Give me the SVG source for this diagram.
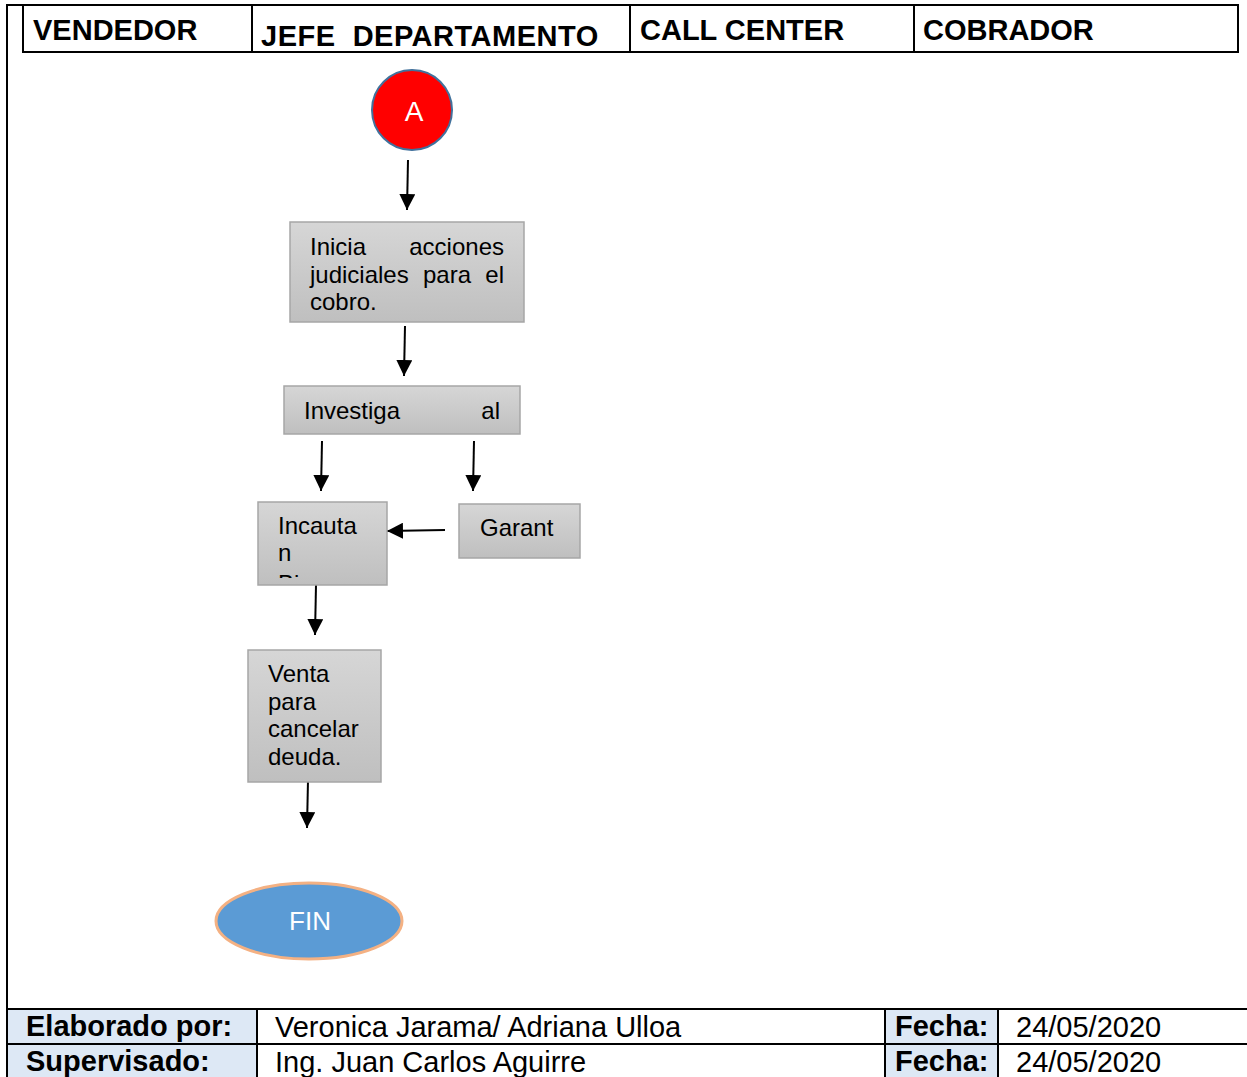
<svg xmlns="http://www.w3.org/2000/svg" width="1247" height="1077" viewBox="0 0 1247 1077">
  <defs>
    <linearGradient id="boxFill" x1="0" y1="0" x2="0" y2="1">
      <stop offset="0" stop-color="#d6d6d6"/>
      <stop offset="1" stop-color="#bfbfbf"/>
    </linearGradient>
    <marker id="arrow" markerWidth="8" markerHeight="8" refX="8" refY="4" orient="auto" markerUnits="strokeWidth">
      <path d="M0,0 L8,4 L0,8 Z" fill="#000"/>
    </marker>
    <clipPath id="clipIncauta">
      <rect x="258" y="502" width="129" height="76"/>
    </clipPath>
  </defs>
  <style>
    .hdr { font-family: "Liberation Sans", Arial, sans-serif; font-weight: bold; font-size: 29px; fill: #000; }
    .ftb { font-family: "Liberation Sans", Arial, sans-serif; font-weight: bold; font-size: 29px; fill: #000; }
    .ft { font-family: "Liberation Sans", Arial, sans-serif; font-size: 29px; fill: #000; }
    .line { stroke: #000; stroke-width: 2; fill: none; }
    .box { fill: url(#boxFill); stroke: #a6a6a6; stroke-width: 1.5; }
    .txt { font-family: "Liberation Sans", Arial, sans-serif; font-size: 24px; fill: #000; }
    .wtxt { font-family: "Liberation Sans", Arial, sans-serif; font-size: 26px; fill: #fff; }
    .big { font-size: 28px; }
    .conn { stroke: #000; stroke-width: 2; fill: none; marker-end: url(#arrow); }
    .lbl { fill: #dde8f5; }
  </style>

  <rect width="1247" height="1077" fill="#fff"/>

  <!-- page frame -->
  <line class="line" x1="7" y1="5" x2="7" y2="1077"/>
  <line class="line" x1="6" y1="5" x2="1239" y2="5"/>

  <!-- swimlane header -->
  <g id="header">
    <rect class="line" x="23" y="5" width="1215" height="47"/>
    <line class="line" x1="252" y1="5" x2="252" y2="52"/>
    <line class="line" x1="630" y1="5" x2="630" y2="52"/>
    <line class="line" x1="914" y1="5" x2="914" y2="52"/>
    <text class="hdr" x="33" y="40">VENDEDOR</text>
    <text class="hdr" x="261" y="46" xml:space="preserve" letter-spacing="0.5">JEFE  DEPARTAMENTO</text>
    <text class="hdr" x="640" y="40">CALL CENTER</text>
    <text class="hdr" x="923" y="40">COBRADOR</text>
  </g>

  <!-- connectors -->
  <g id="connectors">
    <line class="conn" x1="408" y1="160" x2="407" y2="210"/>
    <line class="conn" x1="405" y1="326" x2="404" y2="376"/>
    <line class="conn" x1="322" y1="441" x2="321" y2="491"/>
    <line class="conn" x1="474" y1="441" x2="473" y2="491"/>
    <line class="conn" x1="445" y1="530" x2="387" y2="531"/>
    <line class="conn" x1="316" y1="585" x2="315" y2="635"/>
    <line class="conn" x1="308" y1="780" x2="307" y2="828"/>
  </g>

  <!-- connector A -->
  <g id="node-a">
    <circle cx="412" cy="110" r="40" fill="#ff0000" stroke="#41719c" stroke-width="2"/>
    <text class="wtxt big" x="414" y="121" text-anchor="middle">A</text>
  </g>

  <g id="node-inicia">
    <rect class="box" x="290" y="222" width="234" height="100"/>
    <text class="txt" x="310" y="255">Inicia</text>
    <text class="txt" x="504" y="255" text-anchor="end">acciones</text>
    <text class="txt" x="310" y="283">judiciales</text>
    <text class="txt" x="423" y="283">para</text>
    <text class="txt" x="504" y="283" text-anchor="end">el</text>
    <text class="txt" x="310" y="310">cobro.</text>
  </g>

  <g id="node-investiga">
    <rect class="box" x="284" y="386" width="236" height="48"/>
    <text class="txt" x="304" y="419">Investiga</text>
    <text class="txt" x="500" y="419" text-anchor="end">al</text>
  </g>

  <g id="node-incauta">
    <rect class="box" x="258" y="502" width="129" height="83"/>
    <g clip-path="url(#clipIncauta)">
      <text class="txt" x="278" y="534">Incauta</text>
      <text class="txt" x="278" y="561">n</text>
      <text class="txt" x="278" y="592">Bienes</text>
    </g>
  </g>

  <g id="node-garant">
    <rect class="box" x="459" y="504" width="121" height="54"/>
    <text class="txt" x="480" y="536">Garant</text>
  </g>

  <g id="node-venta">
    <rect class="box" x="248" y="650" width="133" height="132"/>
    <text class="txt" x="268" y="682">Venta</text>
    <text class="txt" x="268" y="710">para</text>
    <text class="txt" x="268" y="737">cancelar</text>
    <text class="txt" x="268" y="765">deuda.</text>
  </g>

  <g id="node-fin">
    <ellipse cx="309" cy="921" rx="93" ry="38" fill="#5b9bd5" stroke="#f4b183" stroke-width="3"/>
    <text class="wtxt" x="310" y="930" text-anchor="middle">FIN</text>
  </g>

  <!-- signature block -->
  <g id="footer">
    <rect class="lbl" x="8" y="1009" width="249" height="68"/>
    <rect class="lbl" x="885" y="1009" width="113" height="68"/>
    <line class="line" x1="7" y1="1009" x2="1247" y2="1009"/>
    <line class="line" x1="7" y1="1044" x2="1247" y2="1044"/>
    <line class="line" x1="257" y1="1009" x2="257" y2="1077"/>
    <line class="line" x1="885" y1="1009" x2="885" y2="1077"/>
    <line class="line" x1="998" y1="1009" x2="998" y2="1077"/>
    <text class="ftb" x="26" y="1036">Elaborado por:</text>
    <text class="ft" x="275" y="1037">Veronica Jarama/ Adriana Ulloa</text>
    <text class="ftb" x="895" y="1036">Fecha:</text>
    <text class="ft" x="1016" y="1037">24/05/2020</text>
    <text class="ftb" x="26" y="1071">Supervisado:</text>
    <text class="ft" x="275" y="1072">Ing. Juan Carlos Aguirre</text>
    <text class="ftb" x="895" y="1071">Fecha:</text>
    <text class="ft" x="1016" y="1072">24/05/2020</text>
  </g>
</svg>
